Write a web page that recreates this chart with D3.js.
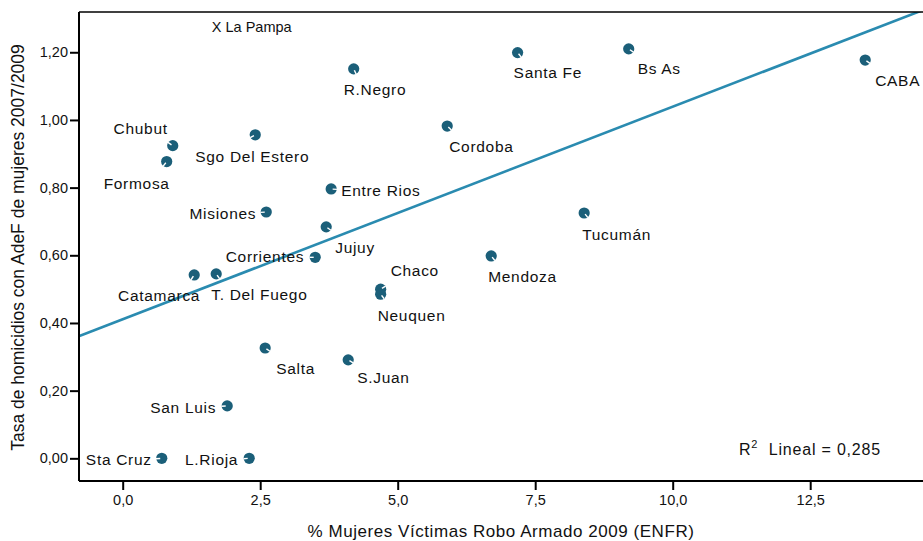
<!DOCTYPE html>
<html>
<head>
<meta charset="utf-8">
<script src="https://cdn.jsdelivr.net/npm/d3@7/dist/d3.min.js"></script>
<style>
  html, body { margin: 0; padding: 0; background: #fff; }
  svg { display: block; font-family: "Liberation Sans", Arial, sans-serif; }
</style>
</head>
<body>
<svg id="chart" width="923" height="541"></svg>
<script>
// ---- data ----
const provinces = ["Chubut","Formosa","Sgo Del Estero","R.Negro","Santa Fe","Bs As","CABA","Cordoba","Entre Rios","Misiones","Jujuy","Tucumán","Corrientes","Catamarca","T. Del Fuego","Chaco","Neuquen","Mendoza","Salta","S.Juan","San Luis","Sta Cruz","L.Rioja"];
const robo = [0.91,0.80,2.41,4.20,7.18,9.20,13.50,5.90,3.79,2.61,3.70,8.39,3.50,1.30,1.70,4.69,4.69,6.70,2.59,4.10,1.90,0.71,2.30];
const homicidios = [0.924,0.877,0.956,1.151,1.199,1.210,1.177,0.982,0.796,0.728,0.684,0.725,0.594,0.542,0.545,0.500,0.485,0.598,0.326,0.291,0.155,0.0,0.0];
const xTicks = [0, 2.5, 5, 7.5, 10, 12.5];
const yTicks = [0, 0.2, 0.4, 0.6, 0.8, 1.0, 1.2];
const fitIntercept = 0.411;
const fitSlope = 0.0628;
const r2Text = "0,285";
const laPampa = { label: "X La Pampa", x: 1.62, y: 1.259 };

// ---- label layout (px offsets from the point: dx, dy, anchor) ----
const labelLayout = {
  "Chubut": [-5, -12, "end"],
  "Formosa": [3, 27, "end"],
  "Sgo Del Estero": [-60, 27, "start"],
  "R.Negro": [-10, 26, "start"],
  "Santa Fe": [-4, 25, "start"],
  "Bs As": [9, 25, "start"],
  "CABA": [10, 26, "start"],
  "Cordoba": [2, 26, "start"],
  "Entre Rios": [10, 7, "start"],
  "Misiones": [-10, 7, "end"],
  "Jujuy": [9, 26, "start"],
  "Tucumán": [-2, 27, "start"],
  "Corrientes": [-11, 5, "end"],
  "Catamarca": [6, 26, "end"],
  "T. Del Fuego": [-5, 26, "start"],
  "Chaco": [10, -13, "start"],
  "Neuquen": [-3, 27, "start"],
  "Mendoza": [-3, 26, "start"],
  "Salta": [11, 26, "start"],
  "S.Juan": [9, 23, "start"],
  "San Luis": [-11, 7, "end"],
  "Sta Cruz": [-10, 7, "end"],
  "L.Rioja": [-11, 7, "end"]
};

const svg = d3.select("#chart");
const pLeft = 79, pRight = 926, pTop = 12, pBottom = 481;

const x = d3.scaleLinear().domain([-0.8, 14.6]).range([pLeft - 0.3, pRight - 0.3]);
const y = d3.scaleLinear().domain([-0.067, 1.319]).range([pBottom, pTop]);

const fmtX = v => d3.format(".1f")(v).replace(".", ",");
const fmtY = v => d3.format(".2f")(v).replace(".", ",");

// clip
svg.append("defs").append("clipPath").attr("id", "plotclip")
  .append("rect").attr("x", pLeft).attr("y", pTop).attr("width", pRight - pLeft).attr("height", pBottom - pTop);

// regression line
const plot = svg.append("g").attr("clip-path", "url(#plotclip)");
const xd = x.domain();
plot.append("line")
  .attr("x1", x(xd[0])).attr("y1", y(fitIntercept + fitSlope * xd[0]))
  .attr("x2", x(xd[1])).attr("y2", y(fitIntercept + fitSlope * xd[1]))
  .attr("stroke", "#2a8bb0").attr("stroke-width", 2.6);

// axes
const xAxis = d3.axisBottom(x).tickValues(xTicks).tickFormat(fmtX).tickSizeInner(9).tickSizeOuter(0).tickPadding(5);
const yAxis = d3.axisLeft(y).tickValues(yTicks).tickFormat(fmtY).tickSizeInner(9).tickSizeOuter(0).tickPadding(2);

const gx = svg.append("g").attr("transform", `translate(0,${pBottom})`).call(xAxis);
const gy = svg.append("g").attr("transform", `translate(${pLeft},0)`).call(yAxis);
[gx, gy].forEach(g => {
  g.select(".domain").attr("stroke", "#000").attr("stroke-width", 2);
  g.selectAll(".tick line").attr("stroke", "#000").attr("stroke-width", 2);
  g.selectAll(".tick text").attr("fill", "#111").style("font-size", "14.5px")
    .style("font-family", "'Liberation Sans', Arial, sans-serif");
});
gx.select(".domain").attr("d", `M${pLeft},0H923`);
gy.select(".domain").attr("d", `M0,${pTop}V${pBottom}`);

// top border
svg.append("line").attr("x1", pLeft).attr("x2", 923).attr("y1", pTop).attr("y2", pTop)
  .attr("stroke", "#000").attr("stroke-width", 1.6);

// points
const pts = provinces.map((p, i) => ({ name: p, x: robo[i], y: homicidios[i] }));
const g = svg.append("g");
pts.forEach(d => {
  const cx = x(d.x), cy = y(d.y);
  const [dx, dy, anchor] = labelLayout[d.name];
  g.append("circle").attr("cx", cx).attr("cy", cy).attr("r", 5.6).attr("fill", "#1b5f79");
  // notch pointing toward label
  const tx = dx + (anchor === "end" ? -20 : 20), ty = dy - 5;
  const a = Math.atan2(ty, tx);
  g.append("line")
    .attr("x1", cx + Math.cos(a) * 1.5).attr("y1", cy + Math.sin(a) * 1.5)
    .attr("x2", cx + Math.cos(a) * 5.8).attr("y2", cy + Math.sin(a) * 5.8)
    .attr("stroke", "#fff").attr("stroke-width", 1.4);
  g.append("text").attr("x", cx + dx).attr("y", cy + dy)
    .attr("text-anchor", anchor)
    .style("font-size", "15.5px").style("letter-spacing", "0.7px")
    .attr("fill", "#111").text(d.name);
});

// La Pampa annotation
svg.append("text").attr("x", x(laPampa.x)).attr("y", y(laPampa.y))
  .style("font-size", "14.5px").attr("fill", "#111").text(laPampa.label);

// R² annotation
const r2 = svg.append("text").attr("x", 739).attr("y", 455).style("font-size", "16px")
  .style("letter-spacing", "0.8px").attr("fill", "#111");
r2.append("tspan").text("R");
r2.append("tspan").attr("dy", -7).style("font-size", "11px").text("2");
r2.append("tspan").attr("dy", 7).text("\u00A0\u00A0Lineal = " + r2Text);

// axis titles
svg.append("text").attr("x", (pLeft + 923) / 2).attr("y", 537).attr("text-anchor", "middle")
  .style("font-size", "17px").style("letter-spacing", "0.55px").attr("fill", "#111")
  .text("% Mujeres Víctimas Robo Armado 2009 (ENFR)");
svg.append("text").attr("transform", "translate(24,247.5) rotate(-90)").attr("text-anchor", "middle")
  .style("font-size", "17.5px").attr("fill", "#111")
  .text("Tasa de homicidios con AdeF de mujeres 2007/2009");
</script>
</body>
</html>
